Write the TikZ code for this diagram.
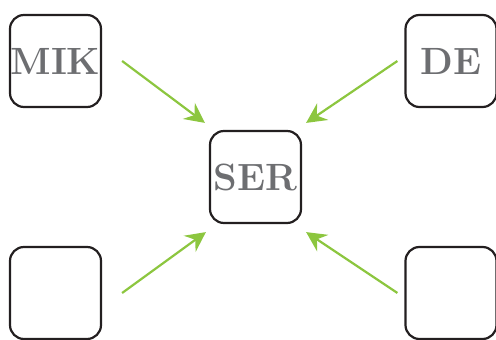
\documentclass[tikz,border=0pt]{standalone}
\usepackage{tikz}
\usetikzlibrary{arrows.meta}
\definecolor{boxgray}{HTML}{6D6E71}
\definecolor{arrowgreen}{HTML}{8CC63F}
\definecolor{boxline}{HTML}{231F20}
\begin{document}
\begin{tikzpicture}[x=1pt, y=1pt]

\tikzstyle{box}=[rectangle, draw=boxline, line width=2.2pt, rounded corners=14pt, minimum width=91pt, minimum height=92pt, inner sep=0pt, text=boxgray, font=\fontsize{38}{44}\selectfont\bfseries]
\tikzstyle{arrow}=[-{Stealth[length=20pt, width=20pt, inset=7pt]}, arrowgreen, line width=2.2pt]

\useasboundingbox (0,0) rectangle (496,340);

\node (MIK) [box] at (55.5, 279)  {MIK};
\node (DE)  [box] at (451, 279)   {DE};
\node (SER) [box] at (255.5, 163) {SER};
\node (BL)  [box] at (55.5, 47)   {};
\node (BR)  [box] at (451, 47)    {};

\draw [arrow] ([xshift=20pt]MIK.east) -- ([shift={(-4pt,7pt)}]SER.north west);
\draw [arrow] ([xshift=-7pt]DE.west) -- ([shift={(4pt,7pt)}]SER.north east);
\draw [arrow] ([xshift=20pt]BL.east) -- ([shift={(-3pt,-8pt)}]SER.south west);
\draw [arrow] ([xshift=-7pt]BR.west) -- ([shift={(4pt,-8pt)}]SER.south east);

\end{tikzpicture}
\end{document}
